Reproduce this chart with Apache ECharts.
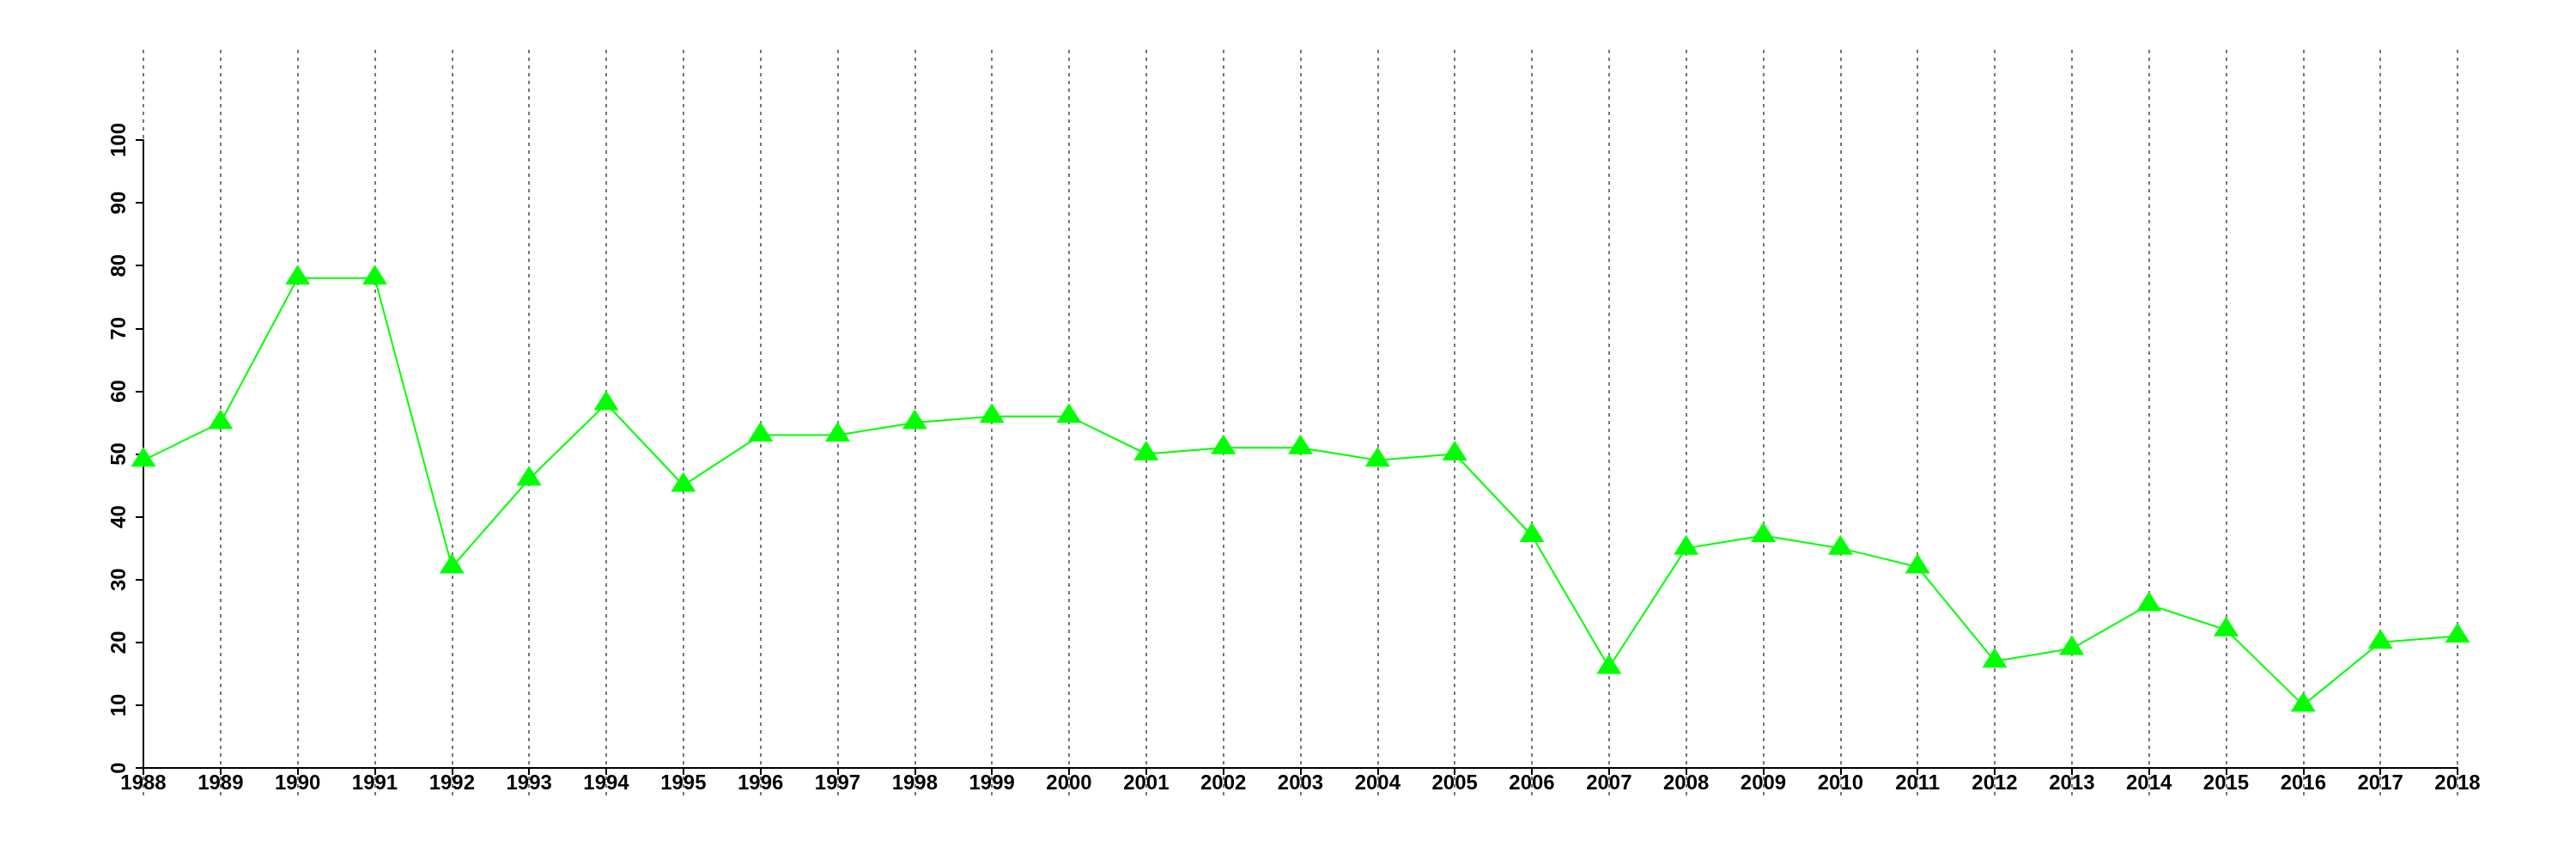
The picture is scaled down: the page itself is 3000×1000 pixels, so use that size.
<!DOCTYPE html>
<html>
<head>
<meta charset="utf-8">
<script src="https://cdn.jsdelivr.net/npm/echarts@6/dist/echarts.min.js"></script>
<style>html,body{margin:0;padding:0;background:#fff;}#c{width:3000px;height:1000px;}</style>
</head>
<body>
<div id="c"></div>
<script>
var years = ['1988','1989','1990','1991','1992','1993','1994','1995','1996','1997','1998','1999','2000','2001','2002','2003','2004','2005','2006','2007','2008','2009','2010','2011','2012','2013','2014','2015','2016','2017','2018'];
var values = [49,55,78,78,32,46,58,45,53,53,55,56,56,50,51,51,49,50,37,16,35,37,35,32,17,19,26,22,10,20,21];
var yMin = 0, yMax = 100, yStep = 10;

var chart = echarts.init(document.getElementById('c'), null, {renderer: 'canvas'});
var labelFont = {fontFamily: 'Liberation Sans, Arial, sans-serif', fontWeight: 'bold', fontSize: 24, color: '#000'};
chart.setOption({
  animation: false,
  backgroundColor: '#fff',
  grid: [
    {left: 167, right: 138, top: 163, bottom: 106},
    {left: 167, right: 138, top: 58, bottom: 73}
  ],
  xAxis: [
    {
      gridIndex: 0, type: 'category', data: years, boundaryGap: false,
      axisLine: {show: true, lineStyle: {color: '#000', width: 2}},
      axisTick: {show: true, alignWithLabel: true, length: 8, lineStyle: {color: '#000', width: 2}},
      axisLabel: Object.assign({margin: 6, interval: 0}, labelFont),
      splitLine: {show: false}
    },
    {
      gridIndex: 1, type: 'category', data: years, boundaryGap: false,
      axisLine: {show: false}, axisTick: {show: false}, axisLabel: {show: false},
      splitLine: {show: true, interval: 0, lineStyle: {color: '#777', width: 2, type: [4, 5]}}
    }
  ],
  yAxis: [
    {
      gridIndex: 0, type: 'value', min: yMin, max: yMax, interval: yStep,
      axisLine: {show: true, lineStyle: {color: '#000', width: 2}},
      axisTick: {show: true, length: 9, lineStyle: {color: '#000', width: 2}},
      axisLabel: Object.assign({margin: 16, rotate: 90}, labelFont),
      splitLine: {show: false}
    },
    {gridIndex: 1, type: 'value', show: false, splitLine: {show: false}}
  ],
  series: [{
    type: 'line',
    xAxisIndex: 0, yAxisIndex: 0,
    data: values,
    z: 5,
    lineStyle: {color: '#00ff00', width: 2},
    itemStyle: {color: '#00ff00'},
    symbol: 'triangle',
    symbolSize: [29, 23],
    symbolOffset: [0, -4],
    showAllSymbol: true
  }]
});
</script>
</body>
</html>
